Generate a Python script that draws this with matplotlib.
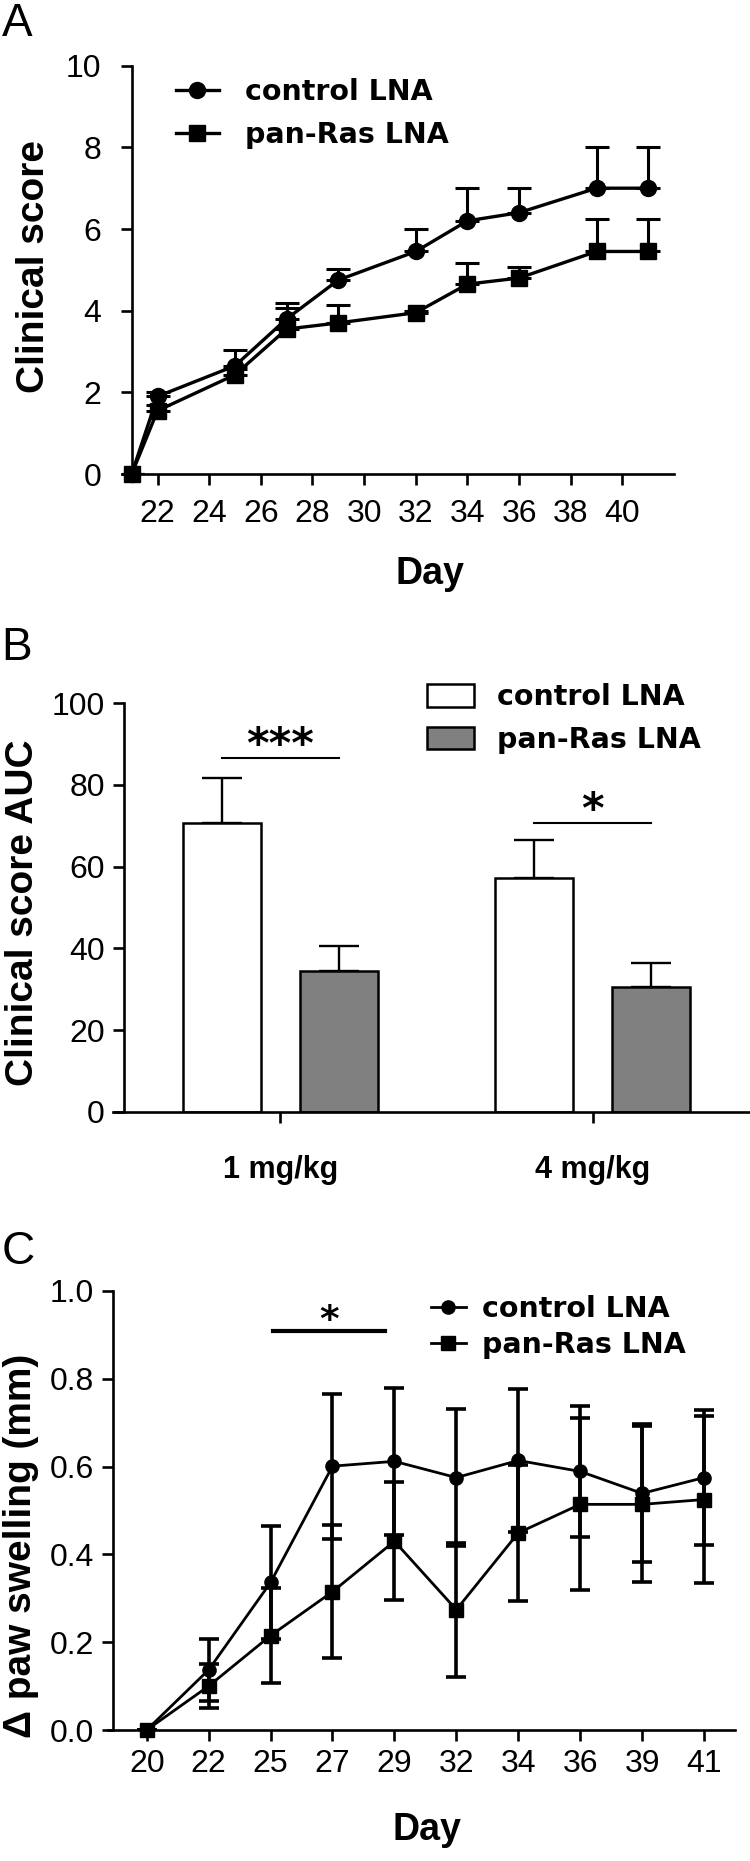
import numpy as np
import matplotlib.pyplot as plt

plt.rcParams['font.family'] = ['Liberation Sans', 'DejaVu Sans']

# Panel A: clinical score over time
days_a = [21, 22, 25, 27, 29, 32, 34, 36, 39, 41]
ctrl_a = [0, 1.9, 2.65, 3.8, 4.75, 5.45, 6.2, 6.4, 7.0, 7.0]
ctrl_a_err = [0, 0.1, 0.38, 0.4, 0.28, 0.55, 0.8, 0.6, 1.0, 1.0]
pan_a = [0, 1.55, 2.43, 3.55, 3.7, 3.95, 4.65, 4.8, 5.45, 5.45]
pan_a_err = [0, 0.15, 0.15, 0.52, 0.45, 0.05, 0.53, 0.26, 0.8, 0.8]

# Panel B: AUC per dose
groups_b = ['1 mg/kg', '4 mg/kg']
ctrl_b = [70.8, 57.3]
ctrl_b_err = [10.8, 9.3]
pan_b = [34.4, 30.6]
pan_b_err = [6.3, 5.8]
sig_b_level = [86.5, 70.6]
sig_b_text = ['***', '*']

# Panel C: paw swelling
days_c = ['20', '22', '25', '27', '29', '32', '34', '36', '39', '41']
ctrl_c = [0, 0.137, 0.336, 0.601, 0.612, 0.575, 0.614, 0.589, 0.539, 0.575]
ctrl_c_err = [0, 0.07, 0.128, 0.165, 0.168, 0.157, 0.162, 0.149, 0.157, 0.154]
pan_c = [0, 0.10, 0.215, 0.315, 0.43, 0.274, 0.449, 0.514, 0.514, 0.525]
pan_c_err = [0, 0.05, 0.108, 0.151, 0.135, 0.153, 0.155, 0.196, 0.178, 0.19]
sig_c_span = [2.04, 3.85]
sig_c_level = 0.909

W, H = 750, 1861
fig = plt.figure(figsize=(W / 100, H / 100), dpi=100)


def axes_px(left, top, right, bottom):
    return fig.add_axes([left / W, 1 - bottom / H, (right - left) / W, (bottom - top) / H])


def style(ax, spine_x):
    for s in ['top', 'right']:
        ax.spines[s].set_visible(False)
    for s in ['left', 'bottom']:
        ax.spines[s].set_linewidth(1.9)
    ax.spines['left'].set_position(('data', spine_x))
    ax.tick_params(direction='out', length=7.9, width=1.9, labelsize=23)


leg_font = {'family': 'DejaVu Sans', 'weight': 'bold', 'size': 20.5}

# ---- A ----
ax_a = axes_px(122, 65.7, 674, 474)
style(ax_a, 21)
ax_a.plot(days_a, ctrl_a, '-o', color='black', lw=2.4, ms=11.5, label='control LNA', clip_on=False, zorder=3)
ax_a.plot(days_a, pan_a, '-s', color='black', lw=2.4, ms=11.5, label='pan-Ras LNA', clip_on=False, zorder=3)
ax_a.errorbar(days_a, ctrl_a, yerr=[np.zeros(len(ctrl_a)), ctrl_a_err], fmt='none', ecolor='black',
              elinewidth=2.2, capsize=8.3, capthick=2.2)
ax_a.errorbar(days_a, pan_a, yerr=[np.zeros(len(pan_a)), pan_a_err], fmt='none', ecolor='black',
              elinewidth=2.2, capsize=8.3, capthick=2.2)
ax_a.set_xlim(20.625, 42)
ax_a.set_ylim(0, 10)
ax_a.set_xticks(range(22, 41, 2))
ax_a.set_yticks(range(0, 11, 2))
ax_a.tick_params(axis='x', pad=10)
ax_a.tick_params(axis='y', pad=14)
ax_a.set_ylabel('Clinical score', fontsize=28, fontweight='bold', va='center')
ax_a.yaxis.set_label_coords(-0.160, 0.507)
ax_a.set_xlabel('Day', fontsize=27, fontweight='bold', va='baseline')
ax_a.xaxis.set_label_coords(0.558, -0.269)
ax_a.legend(loc='upper left', bbox_to_anchor=(176 / W, 1 - 78 / H), bbox_transform=fig.transFigure,
            frameon=False, borderpad=0, borderaxespad=0, handlelength=1.5, handletextpad=0.92,
            labelspacing=0.52, prop=leg_font)

# ---- B ----
ax_b = axes_px(113.4, 703.3, 749, 1111.8)
style(ax_b, -0.5)
x = np.arange(len(groups_b))
bw = 0.25
off = 0.1875
ax_b.bar(x - off, ctrl_b, width=bw, color='white', edgecolor='black', linewidth=1.8, label='control LNA', zorder=2)
ax_b.bar(x + off, pan_b, width=bw, color='#808080', edgecolor='black', linewidth=1.8, label='pan-Ras LNA', zorder=2)
ax_b.errorbar(x - off, ctrl_b, yerr=[np.zeros(2), ctrl_b_err], fmt='none', ecolor='black',
              elinewidth=1.7, capsize=14.4, capthick=1.7, zorder=1)
ax_b.errorbar(x + off, pan_b, yerr=[np.zeros(2), pan_b_err], fmt='none', ecolor='black',
              elinewidth=1.7, capsize=14.4, capthick=1.7, zorder=1)
for i in range(len(groups_b)):
    ax_b.plot([x[i] - off, x[i] + off], [sig_b_level[i]] * 2, color='black', lw=1.5)
    ax_b.text(x[i], sig_b_level[i], sig_b_text[i], ha='center', va='baseline',
              fontsize=31, fontweight='bold', family='DejaVu Sans')
ax_b.set_xlim(-0.534, 1.50)
ax_b.set_ylim(0, 100)
ax_b.set_yticks(range(0, 101, 20))
ax_b.set_xticks(x, groups_b, fontweight='bold', fontsize=22)
ax_b.tick_params(axis='x', pad=23)
ax_b.tick_params(axis='y', pad=6)
ax_b.set_ylabel('Clinical score AUC', fontsize=28, fontweight='bold', va='center')
ax_b.yaxis.set_label_coords(-0.142, 0.487)
ax_b.legend(loc='upper left', bbox_to_anchor=(427 / W, 1 - 683 / H), bbox_transform=fig.transFigure,
            frameon=False, borderpad=0, borderaxespad=0, handlelength=1.65, handleheight=0.86,
            handletextpad=0.82, labelspacing=0.52, prop=leg_font)

# ---- C ----
ax_c = axes_px(108, 1291, 735, 1730)
style(ax_c, -0.54)
xc = np.arange(len(days_c))
ax_c.plot(xc, ctrl_c, '-o', color='black', lw=2.0, ms=9.5, label='control LNA', clip_on=False, zorder=3)
ax_c.plot(xc, pan_c, '-s', color='black', lw=2.0, ms=10, label='pan-Ras LNA', clip_on=False, zorder=3)
ax_c.errorbar(xc, ctrl_c, yerr=ctrl_c_err, fmt='none', ecolor='black', elinewidth=2.6, capsize=6.9, capthick=2.6)
ax_c.errorbar(xc, pan_c, yerr=pan_c_err, fmt='none', ecolor='black', elinewidth=2.6, capsize=6.9, capthick=2.6)
ax_c.plot(sig_c_span, [sig_c_level] * 2, color='black', lw=3)
ax_c.text(np.mean(sig_c_span), sig_c_level, '*', ha='center', va='baseline',
          fontsize=27, fontweight='bold', family='DejaVu Sans')
ax_c.set_xlim(-0.625, 9.5)
ax_c.set_ylim(0, 1.0)
ax_c.set_xticks(xc, days_c)
ax_c.set_yticks(np.arange(0, 1.01, 0.2), [f'{v:.1f}' for v in np.arange(0, 1.01, 0.2)])
ax_c.tick_params(axis='x', pad=6)
ax_c.tick_params(axis='y', pad=6)
ax_c.set_ylabel('Δ paw swelling (mm)', fontsize=28, fontweight='bold', va='center')
ax_c.yaxis.set_label_coords(-0.138, 0.419)
ax_c.set_xlabel('Day', fontsize=27, fontweight='bold', va='baseline')
ax_c.xaxis.set_label_coords(0.509, -0.251)
ax_c.legend(loc='upper left', bbox_to_anchor=(430.6 / W, 1 - 1294.6 / H), bbox_transform=fig.transFigure,
            frameon=False, borderpad=0, borderaxespad=0, handlelength=1.25, handletextpad=0.57,
            labelspacing=0.3, prop=leg_font)

# panel letters
for letter, base in [('A', 36.4), ('B', 659.5), ('C', 1264)]:
    fig.text(1.5 / W, 1 - base / H, letter, fontsize=33, va='baseline', ha='left')

fig.savefig('out.png', dpi=100)
